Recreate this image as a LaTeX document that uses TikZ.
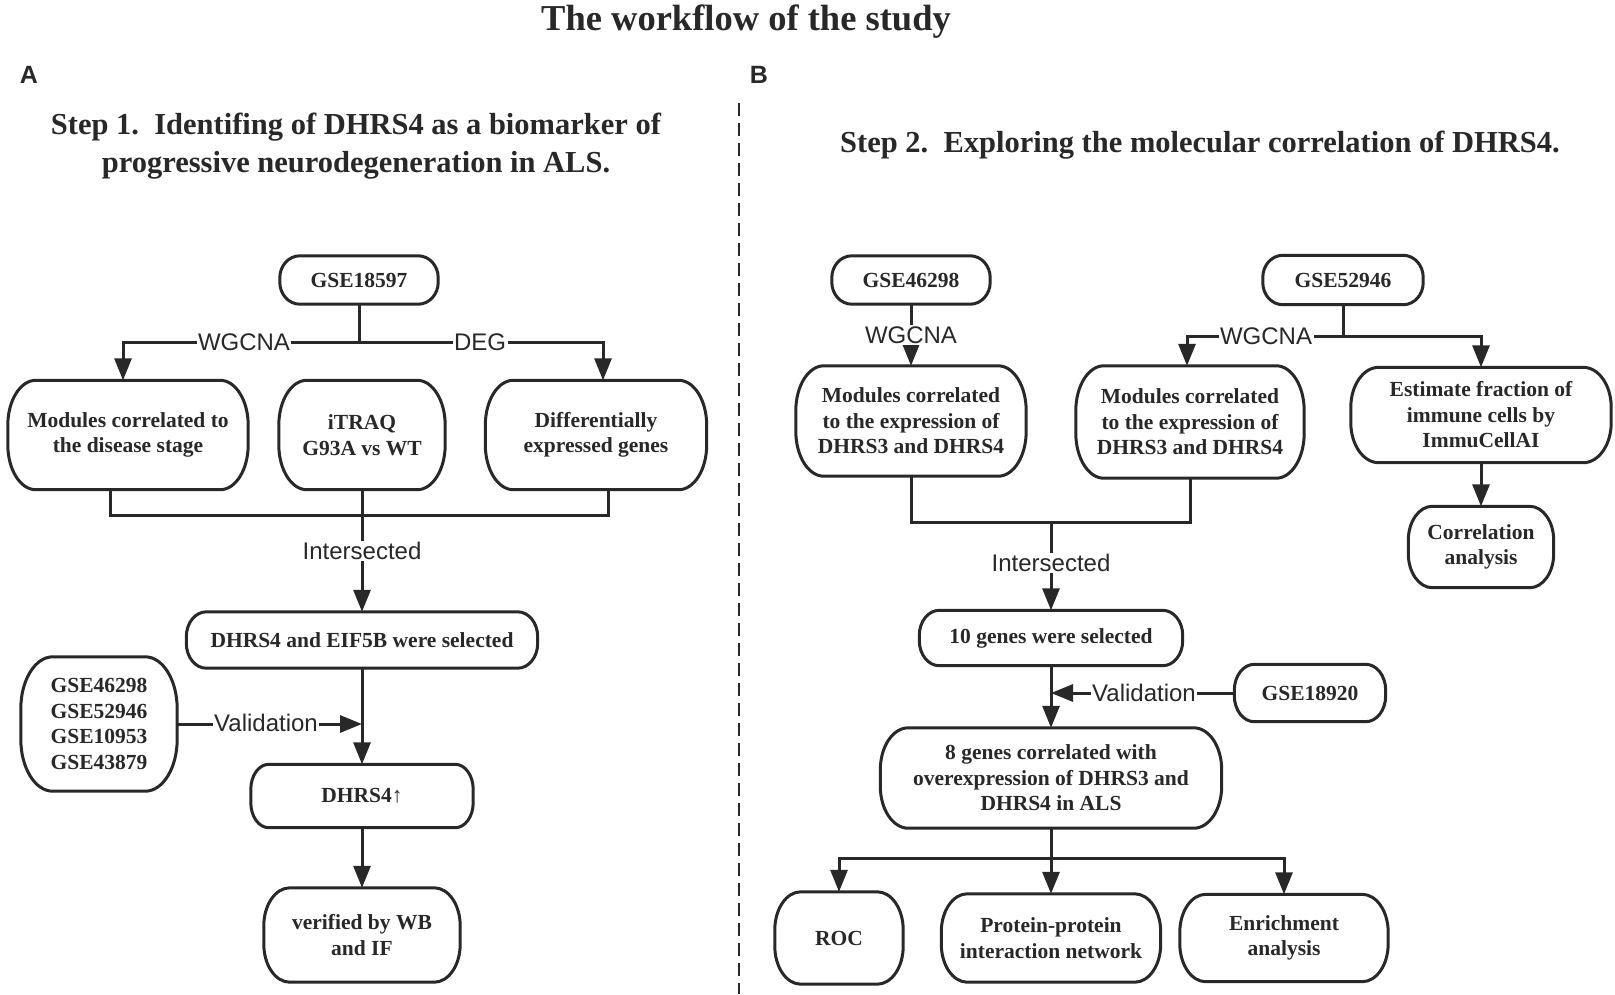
\documentclass[tikz,border=0pt]{standalone}
\usepackage{fontspec}
\setmainfont{Liberation Serif}
\setsansfont{Liberation Sans}
\usetikzlibrary{arrows.meta,calc}
\definecolor{ink}{RGB}{40,40,40}
\newcommand{\ebox}[3]{%
  \draw[boxline] ([xshift=#2]#1.north west) -- ([xshift=-#2]#1.north east)
    arc[start angle=90,end angle=0,x radius=#2,y radius=#3]
    -- ([yshift=#3]#1.south east)
    arc[start angle=0,end angle=-90,x radius=#2,y radius=#3]
    -- ([xshift=#2]#1.south west)
    arc[start angle=270,end angle=180,x radius=#2,y radius=#3]
    -- ([yshift=-#3]#1.north west)
    arc[start angle=180,end angle=90,x radius=#2,y radius=#3] -- cycle;}
\begin{document}
\begin{tikzpicture}[x=1pt,y=-1pt,
  boxline/.style={line width=3pt, draw=ink},
  bx/.style 2 args={inner sep=0pt, align=center, text=ink,
    font=\bfseries\fontsize{21.5}{25.5}\selectfont,
    minimum width=#1pt, minimum height=#2pt},
  conn/.style={line width=3pt, draw=ink},
  arr/.style={conn, -{Triangle[length=22pt,width=17pt]}},
  lab/.style={fill=white, inner sep=1.5pt, text=ink,
    font=\sffamily\fontsize{24}{26}\selectfont},
  dashline/.style={line width=2.6pt, draw=ink, dash pattern=on 13pt off 7pt}]
\fill[white] (0,0) rectangle (1615,994);
\useasboundingbox (0,0) rectangle (1615,994);

% titles
\node[text=ink, font=\bfseries\fontsize{36.5}{40}\selectfont] (title) at (746,22) {The workflow of the study};
\node[text=ink, font=\sffamily\bfseries\fontsize{25}{28}\selectfont] (lA) at (29,75) {A};
\node[text=ink, font=\sffamily\bfseries\fontsize{25}{28}\selectfont] (lB) at (759,75) {B};
\node[text=ink, align=center, font=\bfseries\fontsize{30.5}{38.5}\selectfont] (s1) at (356,146)
  {Step 1.\ \ Identifing of DHRS4 as a biomarker of\\progressive neurodegeneration in ALS.};
\node[text=ink, font=\bfseries\fontsize{30.5}{38.5}\selectfont] (s2) at (1200,145)
  {Step 2.\ \ Exploring the molecular correlation of DHRS4.};
\coordinate (d1) at (739,103);
\coordinate (d2) at (739,994);
\draw[dashline] (d1) -- (d2);

% ---------- Panel A nodes ----------
\node[bx={158}{48}] (gA) at (359,280) {GSE18597};
\node[bx={240}{109}] (mA) at (128,435) {Modules correlated to\\the disease stage};
\node[bx={166}{109}] (itraq) at (362,435) {iTRAQ\\G93A vs WT};
\node[bx={221}{109}] (diff) at (596,435) {Differentially\\expressed genes};
\node[bx={351}{56}] (selA) at (362,640) {DHRS4 and EIF5B were selected};
\node[bx={156}{134}] (glist) at (99,724) {GSE46298\\GSE52946\\GSE10953\\GSE43879};
\node[bx={222}{63}] (upA) at (362,796) {DHRS4\textmd{↑}};
\node[bx={196}{94}] (verA) at (362,935) {verified by WB\\and IF};

\ebox{gA}{20pt}{22pt}
\ebox{mA}{28pt}{45pt}
\ebox{itraq}{28pt}{45pt}
\ebox{diff}{28pt}{45pt}
\ebox{selA}{20pt}{25pt}
\ebox{glist}{32pt}{52pt}
\ebox{upA}{18pt}{25pt}
\ebox{verA}{26pt}{38pt}

% ---------- Panel A connectors ----------
\coordinate (jA) at (359,342);
\draw[conn] (gA.south) -- (jA);
\draw[arr] (jA) -| ([xshift=-5pt]mA.north);
\draw[arr] (jA) -| ([xshift=7pt]diff.north);
\draw[conn] ([xshift=-18pt]mA.south) -- ++(0,26) -| ([xshift=12pt]diff.south);
\draw[arr] (itraq.south) -- (selA.north);
\draw[arr] (selA.south) -- (upA.north);
\draw[arr] (glist.east) -- (glist.east -| selA.south);
\draw[arr] (upA.south) -- (verA.north);
\node[lab] (wA) at (244,342) {WGCNA};
\node[lab] (dA) at (480,342) {DEG};
\node[lab] (iA) at (362,551) {Intersected};
\node[lab] (vA) at (266,723) {Validation};

% ---------- Panel B nodes ----------
\node[bx={158}{48}] (g46) at (911,280) {GSE46298};
\node[bx={230}{110}] (m1) at (911,421) {Modules correlated\\to the expression of\\DHRS3 and DHRS4};
\node[bx={228}{112}] (m2) at (1190,422) {Modules correlated\\to the expression of\\DHRS3 and DHRS4};
\node[bx={160}{49}] (g52) at (1343,280) {GSE52946};
\node[bx={260}{95}] (est) at (1481,415) {Estimate fraction of\\immune cells by\\ImmuCellAI};
\node[bx={145}{81}] (corr) at (1481,547) {Correlation\\analysis};
\node[bx={263}{55}] (ten) at (1051,638) {10 genes were selected};
\node[bx={151}{57}] (g189) at (1310,693) {GSE18920};
\node[bx={341}{100}] (eight) at (1051,778) {8 genes correlated with\\overexpression of DHRS3 and\\DHRS4 in ALS};
\node[bx={128}{92}] (roc) at (839,938) {ROC};
\node[bx={219}{88}] (ppi) at (1051,938) {Protein-protein\\interaction network};
\node[bx={208}{87}] (enr) at (1284,938) {Enrichment\\analysis};

\ebox{g46}{20pt}{22pt}
\ebox{m1}{28pt}{45pt}
\ebox{m2}{28pt}{45pt}
\ebox{g52}{20pt}{22pt}
\ebox{est}{28pt}{40pt}
\ebox{corr}{24pt}{34pt}
\ebox{ten}{20pt}{25pt}
\ebox{g189}{20pt}{26pt}
\ebox{eight}{28pt}{42pt}
\ebox{roc}{26pt}{38pt}
\ebox{ppi}{26pt}{38pt}
\ebox{enr}{26pt}{38pt}

% ---------- Panel B connectors ----------
\draw[arr] (g46.south) -- (m1.north);
\coordinate (jB) at (1343,336);
\draw[conn] (g52.south) -- (jB);
\draw[arr] (jB) -| ([xshift=-3pt]m2.north);
\draw[arr] (jB) -| (est.north);
\draw[arr] (est.south) -- (corr.north);
\draw[conn] (m1.south) -- ++(0,46) -| (m2.south);
\coordinate (iBc) at (1051,522);
\draw[arr] (iBc) -- (ten.north);
\draw[arr] (ten.south) -- (eight.north);
\draw[arr] (g189.west) -- (g189.west -| ten.south);
\draw[conn] (eight.south) -- ++(0,30) coordinate (hB);
\draw[arr] (hB) -| (roc.north);
\draw[arr] (hB) -| (enr.north);
\draw[arr] (hB) -- (ppi.north);
\node[lab] (wB1) at (911,335) {WGCNA};
\node[lab] (wB2) at (1266,336) {WGCNA};
\node[lab] (iB) at (1051,563) {Intersected};
\node[lab] (vB) at (1144,693) {Validation};
\end{tikzpicture}
\end{document}
